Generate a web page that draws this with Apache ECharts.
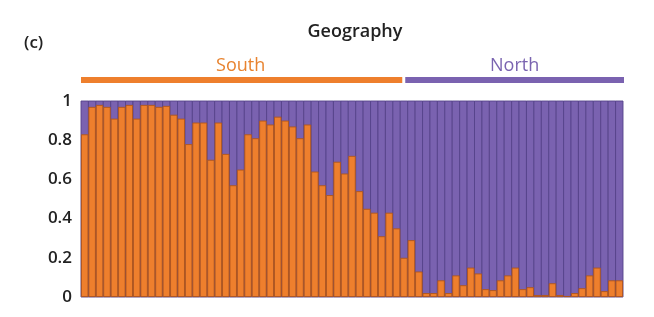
<!DOCTYPE html>
<html>
<head>
<meta charset="utf-8">
<script src="https://cdn.jsdelivr.net/npm/echarts@6/dist/echarts.min.js"></script>
<style>
  html, body { margin: 0; padding: 0; background: #fff; }
  #chart { width: 654px; height: 317px; }
</style>
</head>
<body>
<div id="chart"></div>
<script>
// share of the orange (South) cluster per individual, the rest is North
const southShare = [
  0.83, 0.97, 0.98, 0.97, 0.91, 0.97, 0.98, 0.91, 0.98, 0.98,
  0.97, 0.975, 0.93, 0.91, 0.78, 0.89, 0.89, 0.70, 0.89, 0.73,
  0.57, 0.65, 0.83, 0.81, 0.90, 0.88, 0.92, 0.90, 0.87, 0.81,
  0.88, 0.64, 0.57, 0.52, 0.69, 0.63, 0.72, 0.54, 0.45, 0.43,
  0.31, 0.43, 0.35, 0.20, 0.29, 0.13, 0.02, 0.02, 0.085, 0.02,
  0.11, 0.06, 0.15, 0.12, 0.04, 0.035, 0.085, 0.11, 0.15, 0.04,
  0.05, 0.01, 0.01, 0.07, 0.01, 0.005, 0.02, 0.045, 0.11, 0.15,
  0.03, 0.085, 0.085
]
const individuals = southShare.map((v, i) => 'ind' + (i + 1))
const groupNames = ['South', 'North']
const groupSizes = [43, 30]
const yTicks = [0, 0.2, 0.4, 0.6, 0.8, 1]

const orange = '#ee7f2d'
const purple = '#7a62b0'
const font = '"Open Sans", "Noto Sans", sans-serif'

let chart = echarts.init(document.getElementById('chart'))

let option = {
  animation: false,
  title: {
    text: 'Geography',
    left: 350,
    top: 18,
    textAlign: 'center',
    textStyle: { fontFamily: font, fontSize: 18, fontWeight: 600, color: '#222' }
  },
  grid: { left: 81, right: 31, top: 101, bottom: 20 },
  xAxis: {
    type: 'category',
    data: individuals,
    show: false
  },
  yAxis: {
    type: 'value',
    min: yTicks[0],
    max: yTicks[yTicks.length - 1],
    interval: 0.2,
    axisLine: { show: false },
    axisTick: { show: false },
    splitLine: { show: false },
    axisLabel: {
      margin: 9,
      fontFamily: font,
      fontSize: 17,
      fontWeight: 600,
      color: '#222'
    }
  },
  series: [
    {
      name: 'South',
      type: 'bar',
      data: southShare,
      barCategoryGap: 0,
      showBackground: true,
      backgroundStyle: {
        color: purple,
        borderColor: '#56438a',
        borderWidth: 0.9
      },
      itemStyle: {
        color: orange,
        borderColor: '#b0561b',
        borderWidth: 0.9
      }
    }
  ]
}

chart.setOption(option)

// group header lines and labels, placed from the category scale
const c0 = chart.convertToPixel({ xAxisIndex: 0 }, 0)
const c1 = chart.convertToPixel({ xAxisIndex: 0 }, 1)
const band = c1 - c0
const left = c0 - band / 2
const split = left + band * groupSizes[0]
const right = left + band * (groupSizes[0] + groupSizes[1])

chart.setOption({
  graphic: [
    {
      type: 'text',
      left: 24,
      top: 35,
      style: { text: '(c)', font: '600 17px ' + font, fill: '#222' }
    },
    {
      type: 'rect',
      shape: { x: left, y: 77, width: split - left + 2, height: 6 },
      style: { fill: orange }
    },
    {
      type: 'rect',
      shape: { x: split + 5, y: 77, width: right - split - 4, height: 6 },
      style: { fill: purple }
    },
    {
      type: 'text',
      x: (left + split) / 2,
      y: 66,
      style: {
        text: groupNames[0], font: '18px ' + font, fill: '#e8832f',
        textAlign: 'center', textVerticalAlign: 'middle'
      }
    },
    {
      type: 'text',
      x: (split + right) / 2 + 3,
      y: 66,
      style: {
        text: groupNames[1], font: '18px ' + font, fill: '#7a64b0',
        textAlign: 'center', textVerticalAlign: 'middle'
      }
    }
  ]
})
</script>
</body>
</html>
